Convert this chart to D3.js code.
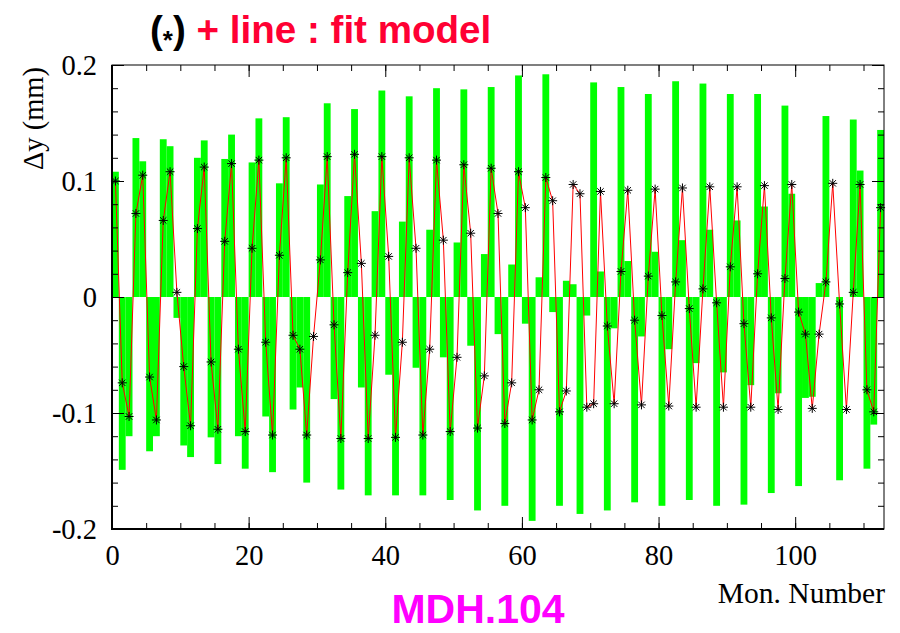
<!DOCTYPE html>
<html>
<head>
<meta charset="utf-8">
<script src="https://cdn.jsdelivr.net/npm/d3@7"></script>
<style>
  html, body { margin: 0; padding: 0; background: #ffffff; }
  svg { display: block; }
</style>
</head>
<body>
<svg id="chart" width="900" height="633"></svg>
<script>
// ---- data ----
// measured offsets per monitor bin (green bars), mm
const measured = [
  0.108, -0.149, -0.120, 0.137, 0.117, -0.133, -0.120, 0.136, 0.130, -0.018,
  -0.128, -0.138, 0.120, 0.135, -0.121, -0.144, 0.119, 0.140, -0.120, -0.148,
  0.116, 0.154, -0.103, -0.151, 0.098, 0.155, -0.097, -0.078, -0.160, 0.000,
  0.097, 0.167, -0.088, -0.166, 0.087, 0.162, -0.078, -0.171, 0.074, 0.178,
  -0.067, -0.171, 0.065, 0.173, -0.061, -0.171, 0.058, 0.180, -0.052, -0.175,
  0.047, 0.179, -0.042, -0.184, 0.037, 0.181, -0.032, -0.180, 0.028, 0.191,
  -0.023, -0.193, 0.017, 0.192, -0.013, -0.180, 0.014, 0.011, -0.187, -0.016,
  0.185, 0.022, -0.184, -0.027, 0.181, 0.031, -0.177, -0.034, 0.175, 0.039,
  -0.180, -0.045, 0.186, 0.049, -0.175, -0.057, 0.184, 0.058, -0.180, -0.065,
  0.175, 0.066, -0.179, -0.076, 0.175, 0.078, -0.169, -0.083, 0.165, 0.089,
  -0.163, -0.087, -0.086, 0.012, 0.156, 0.000, -0.158, 0.000, 0.153, 0.109,
  -0.148, -0.110, 0.144
];
// fit model per monitor bin (asterisks + red line), mm
const fitModel = [
  0.100, -0.074, -0.103, 0.072, 0.105, -0.069, -0.106, 0.066, 0.108, 0.004,
  -0.060, -0.111, 0.059, 0.112, -0.056, -0.114, 0.048, 0.115, -0.045, -0.116,
  0.042, 0.118, -0.039, -0.119, 0.036, 0.120, -0.033, -0.045, -0.119, -0.034,
  0.032, 0.121, -0.024, -0.122, 0.021, 0.123, 0.029, -0.122, -0.033, 0.121,
  0.035, -0.121, -0.039, 0.120, 0.042, -0.119, -0.045, 0.118, 0.049, -0.116,
  -0.052, 0.114, 0.055, -0.113, -0.068, 0.111, 0.072, -0.109, -0.074, 0.108,
  0.077, -0.106, -0.080, 0.103, 0.083, -0.099, -0.081, 0.097, 0.089, -0.095,
  -0.092, 0.091, -0.025, -0.092, 0.022, 0.092, -0.020, -0.093, 0.018, 0.093,
  -0.016, -0.094, 0.013, 0.094, -0.010, -0.095, 0.007, 0.095, -0.005, -0.095,
  0.026, 0.095, -0.023, -0.095, 0.020, 0.096, -0.018, -0.097, 0.016, 0.097,
  -0.013, -0.032, -0.096, -0.032, 0.013, 0.098, -0.006, -0.097, 0.004, 0.097,
  -0.080, -0.099, 0.077
];
const xTicks = [0, 20, 40, 60, 80, 100];
const xMinorTicks = [0,5,10,15,20,25,30,35,40,45,50,55,60,65,70,75,80,85,90,95,100,105,110];
const yTicks = [-0.2, -0.1, 0, 0.1, 0.2];
const yTickLabels = ["-0.2", "-0.1", "0", "0.1", "0.2"];
const yMinorTicks = [-0.2,-0.18,-0.16,-0.14,-0.12,-0.1,-0.08,-0.06,-0.04,-0.02,0,0.02,0.04,0.06,0.08,0.1,0.12,0.14,0.16,0.18,0.2];
const xDomain = [0, 113];
const yDomain = [-0.2, 0.2];

// ---- layout ----
const svg = d3.select("#chart");
const L = 112, R = 884, T = 65, B = 529;
const x = d3.scaleLinear().domain(xDomain).range([L, R]);
const y = d3.scaleLinear().domain(yDomain).range([B, T]);
const serif = "'Liberation Serif', 'Times New Roman', serif";
const sans = "'Liberation Sans', Arial, Helvetica, sans-serif";

// bars
svg.append("g").selectAll("rect").data(measured).join("rect")
  .attr("x", (d, i) => x(i))
  .attr("width", (d, i) => x(i + 1) - x(i))
  .attr("y", d => y(Math.max(0, d)))
  .attr("height", d => Math.abs(y(d) - y(0)))
  .attr("fill", "#00ff00");

// fit line
const line = d3.line().x((d, i) => x(i + 0.5)).y(d => y(d));
svg.append("path").datum(fitModel)
  .attr("d", line)
  .attr("fill", "none")
  .attr("stroke", "#ff0000")
  .attr("stroke-width", 1);

// asterisk markers
const star = "M-4.5,0H4.5M0,-4.5V4.5M-3.2,-3.2L3.2,3.2M-3.2,3.2L3.2,-3.2";
svg.append("g").selectAll("path").data(fitModel).join("path")
  .attr("transform", (d, i) => `translate(${x(i + 0.5)},${y(d)})`)
  .attr("d", star)
  .attr("stroke", "#000")
  .attr("stroke-width", 1)
  .attr("fill", "none");

// axes (ticks inside)
function styleAxis(g) {
  g.select(".domain").remove();
  g.selectAll("line").attr("stroke", "#000").attr("stroke-width", 1);
  g.selectAll("text").attr("font-family", serif).attr("font-size", 28.5).attr("fill", "#000");
}
// left
svg.append("g").attr("transform", `translate(${L},0)`)
  .call(d3.axisLeft(y).tickValues(yMinorTicks).tickSize(-6).tickFormat(""))
  .call(styleAxis);
svg.append("g").attr("transform", `translate(${L},0)`)
  .call(d3.axisLeft(y).tickValues(yTicks).tickSize(-12).tickPadding(15)
    .tickFormat((d, i) => yTickLabels[i]))
  .call(styleAxis);
// right
svg.append("g").attr("transform", `translate(${R},0)`)
  .call(d3.axisRight(y).tickValues(yMinorTicks).tickSize(-6).tickFormat(""))
  .call(styleAxis);
svg.append("g").attr("transform", `translate(${R},0)`)
  .call(d3.axisRight(y).tickValues(yTicks).tickSize(-12).tickFormat(""))
  .call(styleAxis);
// bottom
svg.append("g").attr("transform", `translate(0,${B})`)
  .call(d3.axisBottom(x).tickValues(xMinorTicks).tickSize(-6).tickFormat(""))
  .call(styleAxis);
svg.append("g").attr("transform", `translate(0,${B})`)
  .call(d3.axisBottom(x).tickValues(xTicks).tickSize(-12).tickPadding(16).tickFormat(d3.format("d")))
  .call(styleAxis);
// top
svg.append("g").attr("transform", `translate(0,${T})`)
  .call(d3.axisTop(x).tickValues(xMinorTicks).tickSize(-6).tickFormat(""))
  .call(styleAxis);
svg.append("g").attr("transform", `translate(0,${T})`)
  .call(d3.axisTop(x).tickValues(xTicks).tickSize(-12).tickFormat(""))
  .call(styleAxis);

// frame
svg.append("rect").attr("x", L).attr("y", T).attr("width", R - L).attr("height", B - T)
  .attr("fill", "none").attr("stroke", "#000").attr("stroke-width", 1);
svg.append("line").attr("x1", L).attr("x2", L).attr("y1", T).attr("y2", B + 1)
  .attr("stroke", "#000").attr("stroke-width", 2);
svg.append("line").attr("x1", L - 1).attr("x2", R).attr("y1", B).attr("y2", B)
  .attr("stroke", "#000").attr("stroke-width", 2);

// axis titles
svg.append("text")
  .attr("transform", `translate(43,${T + 2}) rotate(-90)`)
  .attr("text-anchor", "end")
  .attr("font-family", serif).attr("font-size", 28.5)
  .text("Δy (mm)");
svg.append("text")
  .attr("x", 885).attr("y", 603)
  .attr("text-anchor", "end")
  .attr("font-family", serif).attr("font-size", 29.5)
  .text("Mon. Number");

// title
const title = svg.append("text")
  .attr("x", 150).attr("y", 43)
  .attr("font-family", sans).attr("font-size", 38.6).attr("font-weight", "bold");
title.append("tspan").attr("fill", "#000").text("(");
title.append("tspan").attr("fill", "#000").attr("font-size", 26).attr("dy", 6).text("*");
title.append("tspan").attr("fill", "#000").attr("dy", -6).text(")");
title.append("tspan").attr("fill", "#ff0033").text(" + line : fit model");

// bottom label
svg.append("text")
  .attr("x", 478).attr("y", 623)
  .attr("text-anchor", "middle")
  .attr("font-family", sans).attr("font-size", 41).attr("font-weight", "bold")
  .attr("fill", "#ff00ff")
  .text("MDH.104");
</script>
</body>
</html>
